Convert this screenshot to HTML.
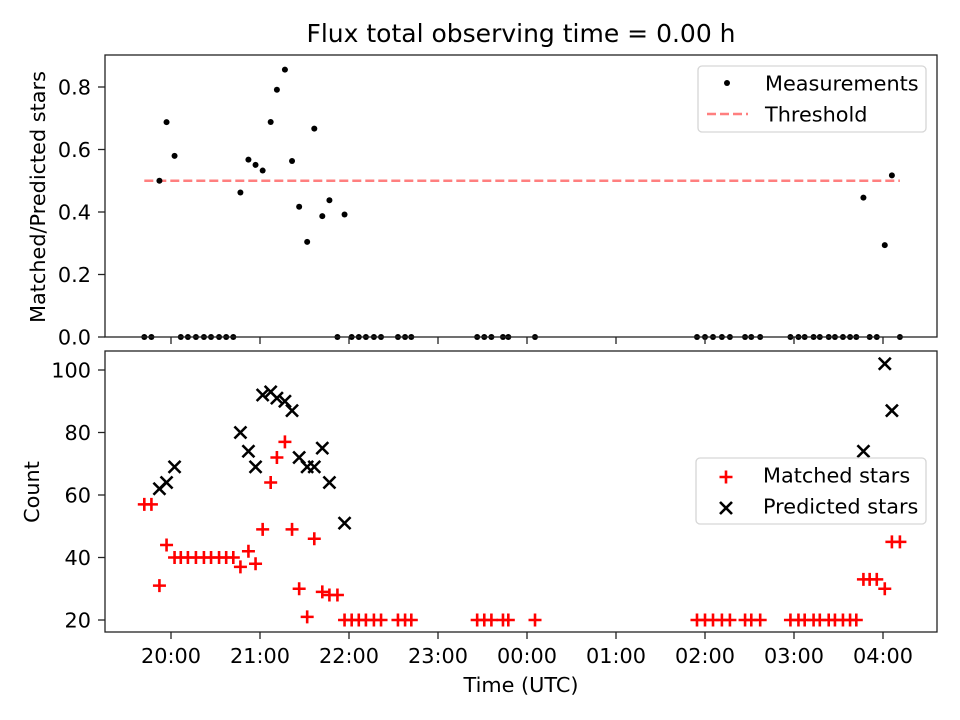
<!DOCTYPE html>
<html><head><meta charset="utf-8"><style>
html,body{margin:0;padding:0;background:#fff}
svg{display:block;font-family:"DejaVu Sans","Liberation Sans",sans-serif}
</style></head><body>
<svg id="fig" width="960" height="720" viewBox="0 0 960 720"></svg>
<script>
// Observation times (decimal hours; after midnight continues past 24)
const times = [19.70,19.78,19.87,19.95,20.04,20.11,20.19,20.28,20.37,20.45,20.54,20.62,20.70,20.78,20.87,20.95,21.03,21.12,21.19,21.28,21.36,21.44,21.53,21.61,21.70,21.78,21.87,21.95,22.03,22.11,22.19,22.28,22.36,22.55,22.63,22.70,23.44,23.52,23.60,23.73,23.79,24.09,25.91,26.00,26.09,26.19,26.28,26.45,26.52,26.62,26.96,27.05,27.12,27.22,27.29,27.39,27.46,27.55,27.63,27.70,27.78,27.85,27.93,28.02,28.10,28.19];
const matched = [57,57,31,44,40,40,40,40,40,40,40,40,40,37,42,38,49,64,72,77,49,30,21,46,29,28,28,20,20,20,20,20,20,20,20,20,20,20,20,20,20,20,20,20,20,20,20,20,20,20,20,20,20,20,20,20,20,20,20,20,33,33,33,30,45,45];
const predicted = [null,null,62,64,69,null,null,null,null,null,null,null,null,80,74,69,92,93,91,90,87,72,69,69,75,64,null,51,null,null,null,null,null,null,null,null,null,null,null,null,null,null,null,null,null,null,null,null,null,null,null,null,null,null,null,null,null,null,null,null,74,null,null,102,87,null];
const threshold = 0.5;
const thresholdRange = [19.70, 28.19];
const xTicks = [20,21,22,23,24,25,26,27,28];
const xTickLabels = ["20:00","21:00","22:00","23:00","00:00","01:00","02:00","03:00","04:00"];
const topTicks = [0,0.2,0.4,0.6,0.8];
const topTickLabels = ["0.0","0.2","0.4","0.6","0.8"];
const botTicks = [20,40,60,80,100];

const NS="http://www.w3.org/2000/svg";
const svg=document.getElementById('fig');
function mk(tag,attrs,parent){const e=document.createElementNS(NS,tag);for(const k in attrs)e.setAttribute(k,attrs[k]);(parent||svg).appendChild(e);return e;}
const L=105,R=937;
const FS='20.8px';
const xs=h=>171+(h-20)*89;
const T0=55,T1=337; const yTop=v=>337-v*312.5;
const B0=351,B1=632; const yBot=v=>620-(v-20)*3.125;

let t=mk('text',{x:521,y:42,'text-anchor':'middle','font-size':'25px'});t.textContent='Flux total observing time = 0.00 h';



const gTop=mk('g',{});


const gBot=mk('g',{});



let th=mk('line',{x1:xs(thresholdRange[0]),x2:xs(thresholdRange[1]),y1:yTop(threshold),y2:yTop(threshold),stroke:'#ff7f7f','stroke-width':2.5,'stroke-dasharray':'9,4'},gTop);



times.forEach((h,i)=>{
  const r=predicted[i]?matched[i]/predicted[i]:0;
  const c=mk('circle',{cx:xs(h),cy:yTop(r),r:3,fill:'#000'},gTop);
  
  
});
times.forEach((h,i)=>{
  const x=xs(h),y=yBot(matched[i]);
  const p=mk('path',{d:`M${x-6.5},${y}H${x+6.5}M${x},${y-6.5}V${y+6.5}`,stroke:'#f00','stroke-width':2.6,fill:'none'},gBot);
  
  
  if(predicted[i]){
    const yy=yBot(predicted[i]);
    const q=mk('path',{d:`M${x-6},${yy-6}L${x+6},${yy+6}M${x-6},${yy+6}L${x+6},${yy-6}`,stroke:'#000','stroke-width':2.6,fill:'none'},gBot);
    
    
  }
});

mk('rect',{x:L,y:T0,width:R-L,height:T1-T0,fill:'none',stroke:'#222','stroke-width':1.3},gTop);
mk('rect',{x:L,y:B0,width:R-L,height:B1-B0,fill:'none',stroke:'#222','stroke-width':1.3},gBot);

xTicks.forEach((h,i)=>{
  const x=xs(h);
  mk('line',{x1:x,x2:x,y1:T1,y2:T1+7,stroke:'#222','stroke-width':1.3},gTop);
  mk('line',{x1:x,x2:x,y1:B1,y2:B1+7,stroke:'#222','stroke-width':1.3},gBot);
  const tx=mk('text',{x:x,y:B1+31,'text-anchor':'middle','font-size':FS},gBot);
  tx.textContent=xTickLabels[i];
  
  
});
topTicks.forEach((v,i)=>{
  const y=yTop(v);
  mk('line',{x1:L-7,x2:L,y1:y,y2:y,stroke:'#222','stroke-width':1.3},gTop);
  const tx=mk('text',{x:L-14,y:y+7.5,'text-anchor':'end','font-size':FS},gTop);
  tx.textContent=topTickLabels[i];
  
  
});
botTicks.forEach(v=>{
  const y=yBot(v);
  mk('line',{x1:L-7,x2:L,y1:y,y2:y,stroke:'#222','stroke-width':1.3},gBot);
  const tx=mk('text',{x:L-14,y:y+7.5,'text-anchor':'end','font-size':FS},gBot);
  tx.textContent=String(v);
  
  
});

t=mk('text',{x:521,y:692,'text-anchor':'middle','font-size':FS});t.textContent='Time (UTC)';


t=mk('text',{x:0,y:0,'text-anchor':'middle','font-size':FS,transform:'translate(45,197) rotate(-90)'});t.textContent='Matched/Predicted stars';


t=mk('text',{x:0,y:0,'text-anchor':'middle','font-size':FS,transform:'translate(39,492) rotate(-90)'});t.textContent='Count';



let lg=mk('g',{});


mk('rect',{x:698,y:66,width:228,height:66,rx:4,fill:'#fff','fill-opacity':0.8,stroke:'#d6d6d6','stroke-width':1.3},lg);
mk('circle',{cx:727,cy:83,r:3,fill:'#000'},lg);
t=mk('text',{x:765,y:90.5,'font-size':FS},lg);t.textContent='Measurements';
mk('line',{x1:707,x2:748,y1:114,y2:114,stroke:'#ff7f7f','stroke-width':2.5,'stroke-dasharray':'9,4'},lg);
t=mk('text',{x:765,y:121.5,'font-size':FS},lg);t.textContent='Threshold';

lg=mk('g',{});


mk('rect',{x:696,y:458,width:230,height:66,rx:4,fill:'#fff','fill-opacity':0.8,stroke:'#d6d6d6','stroke-width':1.3},lg);
mk('path',{d:'M719.5,477H732.5M726,470.5V483.5',stroke:'#f00','stroke-width':2.6},lg);
t=mk('text',{x:763,y:482.5,'font-size':FS},lg);t.textContent='Matched stars';
mk('path',{d:'M720,502L732,514M720,514L732,502',stroke:'#000','stroke-width':2.6},lg);
t=mk('text',{x:763,y:513.5,'font-size':FS},lg);t.textContent='Predicted stars';
</script>
</body></html>
